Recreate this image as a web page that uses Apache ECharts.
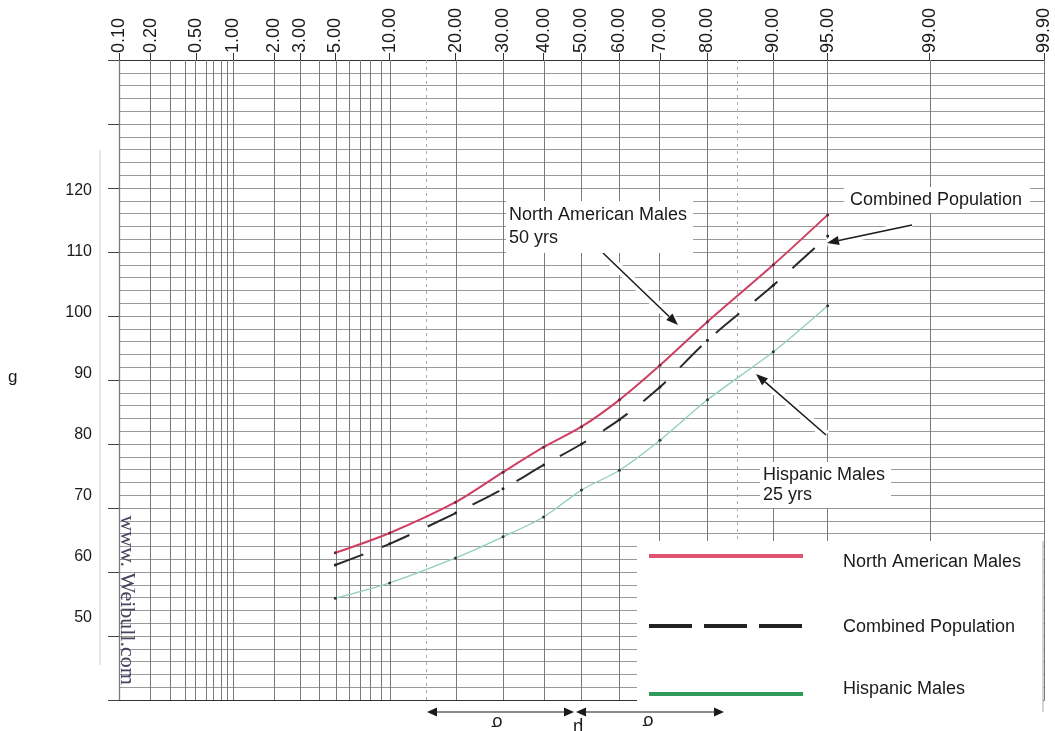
<!DOCTYPE html>
<html>
<head>
<meta charset="utf-8">
<script src="https://cdn.jsdelivr.net/npm/echarts@6/dist/echarts.min.js"></script>
<style>
html,body{margin:0;padding:0;background:#fff;}
#chart{width:1055px;height:731px;}
</style>
</head>
<body>
<div id="chart"></div>
<script>
// ---------- data ----------
const xTickProbs = [0.1, 0.2, 0.5, 1, 2, 3, 5, 10, 20, 30, 40, 50, 60, 70, 80, 90, 95, 99, 99.9];
const xTickLabels = ['0.10','0.20','0.50','1.00','2.00','3.00','5.00','10.00','20.00','30.00','40.00','50.00','60.00','70.00','80.00','90.00','95.00','99.00','99.90'];
const gridProbs = [0.1,0.2,0.3,0.4,0.5,0.6,0.7,0.8,0.9,1,2,3,4,5,6,7,8,9,10,20,30,40,50,60,70,80,90,95,99,99.9];
const dashedGridProbs = [15, 85];
const yTickLabels = [50, 60, 70, 80, 90, 100, 110, 120];

const probs = [5, 10, 20, 30, 40, 50, 60, 70, 80, 90, 95];
const northAmerican = [63.0, 66.1, 70.9, 75.6, 79.5, 82.7, 86.9, 92.3, 99.1, 108.0, 115.8];
const combined      = [61.1, 64.4, 69.2, 73.0, 76.7, 80.0, 83.8, 88.9, 96.2, 104.8, 112.5];
const hispanic      = [55.9, 58.3, 62.2, 65.5, 68.6, 72.8, 75.9, 80.6, 86.9, 94.4, 101.6];

const seriesNames = ['North American Males', 'Combined Population', 'Hispanic Males'];

// ---------- normal probability scale (inverse normal CDF) ----------
function normInv(p) {
  const a=[-3.969683028665376e+01,2.209460984245205e+02,-2.759285104469687e+02,1.383577518672690e+02,-3.066479806614716e+01,2.506628277459239e+00];
  const b=[-5.447609879822406e+01,1.615858368580409e+02,-1.556989798598866e+02,6.680131188771972e+01,-1.328068155288572e+01];
  const c=[-7.784894002430293e-03,-3.223964580411365e-01,-2.400758277161838e+00,-2.549732539343734e+00,4.374664141464968e+00,2.938163982698783e+00];
  const d=[7.784695709041462e-03,3.224671290700398e-01,2.445134137142996e+00,3.754408661907416e+00];
  const plow=0.02425, phigh=1-plow; let q,r;
  if(p<plow){q=Math.sqrt(-2*Math.log(p));return (((((c[0]*q+c[1])*q+c[2])*q+c[3])*q+c[4])*q+c[5])/((((d[0]*q+d[1])*q+d[2])*q+d[3])*q+1);}
  if(p<=phigh){q=p-0.5;r=q*q;return (((((a[0]*r+a[1])*r+a[2])*r+a[3])*r+a[4])*r+a[5])*q/(((((b[0]*r+b[1])*r+b[2])*r+b[3])*r+b[4])*r+1);}
  q=Math.sqrt(-2*Math.log(1-p));return -(((((c[0]*q+c[1])*q+c[2])*q+c[3])*q+c[4])*q+c[5])/((((d[0]*q+d[1])*q+d[2])*q+d[3])*q+1);
}
const zOf = pct => normInv(pct / 100);
const xMin = zOf(0.1), xMax = zOf(99.9);
const xTickZ = xTickProbs.map(zOf);

function toPoints(vals){ return probs.map((p,i)=>[zOf(p), vals[i]]); }

// ---------- helpers for graphics ----------
function arrow(x1,y1,x2,y2,opts){
  opts = opts || {};
  const ang = Math.atan2(y2-y1, x2-x1);
  const L = opts.head || 12, W = opts.w || 4.5;
  const bx = x2 - L*Math.cos(ang), by = y2 - L*Math.sin(ang);
  const px = -Math.sin(ang)*W, py = Math.cos(ang)*W;
  const els = [];
  if (opts.halo) els.push({type:'line', z:100, shape:{x1:x1,y1:y1,x2:x2,y2:y2}, style:{stroke:'#fff', lineWidth:opts.halo}});
  els.push({type:'line', z:101, shape:{x1:x1,y1:y1,x2:bx,y2:by}, style:{stroke:'#1a1a1a', lineWidth:opts.lw||1.5}});
  els.push({type:'polygon', z:101, shape:{points:[[x2,y2],[bx+px,by+py],[bx-px,by-py]]}, style:{fill:'#1a1a1a'}});
  return els;
}
const font = '"Liberation Sans", Arial, sans-serif';
function label(text, x, y, extra){
  return {type:'text', z:102, style:Object.assign({text:text, x:x, y:y, font:'18px '+font, fill:'#1a1a1a', textVerticalAlign:'middle'}, extra||{})};
}

const graphics = [];
// faint scan edge
graphics.push({type:'line', z:1, shape:{x1:100,y1:150,x2:100,y2:665}, style:{stroke:'#cfcfd8', lineWidth:1}});
// annotation boxes
graphics.push(label('North American Males\n50 yrs', 506, 227, {backgroundColor:'#fff', padding:[3,6,3,3], lineHeight:23}));
graphics.push(...arrow(603,253,678,325,{halo:9}));
graphics.push(label('Combined Population', 844, 200, {backgroundColor:'#fff', padding:[4,8,4,6]}));
graphics.push(...arrow(912,225,827,243,{halo:8}));
graphics.push(label('Hispanic Males\n25 yrs', 760, 485, {backgroundColor:'#fff', padding:[3,6,3,3], lineHeight:20}));
graphics.push(...arrow(826,435,756,374,{halo:9}));
// legend panel
graphics.push({type:'rect', z:100, shape:{x:637,y:541,width:406,height:175}, style:{fill:'#fff'}});
graphics.push({type:'line', z:101, shape:{x1:1043,y1:541,x2:1043,y2:712}, style:{stroke:'#aaa', lineWidth:1}});
graphics.push({type:'line', z:101, shape:{x1:649,y1:556,x2:803,y2:556}, style:{stroke:'#e2536f', lineWidth:4}});
graphics.push({type:'line', z:101, shape:{x1:649,y1:626,x2:803,y2:626}, style:{stroke:'#222', lineWidth:4, lineDash:[43,12]}});
graphics.push({type:'line', z:101, shape:{x1:649,y1:694,x2:803,y2:694}, style:{stroke:'#2f9a5a', lineWidth:4}});
graphics.push(label(seriesNames[0], 843, 562));
graphics.push(label(seriesNames[1], 843, 627));
graphics.push(label(seriesNames[2], 843, 689));
// watermark
graphics.push({type:'text', z:102, x:127, y:600, rotation:-Math.PI/2, style:{text:'www. Weibull.com', font:'22px "Liberation Serif", "DejaVu Serif", serif', fill:'#4a4560', textAlign:'center', textVerticalAlign:'middle'}});
// stray axis title fragment
graphics.push(label('g', 8, 377, {font:'17px '+font}));
// sigma / mu arrows (upside-down labels)
function dblArrow(x1,x2,y){
  const out=[];
  out.push({type:'line', z:101, shape:{x1:x1+8,y1:y,x2:x2-8,y2:y}, style:{stroke:'#1a1a1a', lineWidth:1.2}});
  out.push({type:'polygon', z:101, shape:{points:[[x1,y],[x1+10,y-4.5],[x1+10,y+4.5]]}, style:{fill:'#1a1a1a'}});
  out.push({type:'polygon', z:101, shape:{points:[[x2,y],[x2-10,y-4.5],[x2-10,y+4.5]]}, style:{fill:'#1a1a1a'}});
  return out;
}
graphics.push(...dblArrow(427,574,712));
graphics.push(...dblArrow(576,724,712));
graphics.push({type:'text', z:102, x:497, y:722, rotation:Math.PI, style:{text:'σ', font:'18px '+font, fill:'#1a1a1a', textAlign:'center', textVerticalAlign:'middle'}});
graphics.push({type:'text', z:102, x:648, y:721, rotation:Math.PI, style:{text:'σ', font:'18px '+font, fill:'#1a1a1a', textAlign:'center', textVerticalAlign:'middle'}});
graphics.push({type:'text', z:102, x:578, y:727, rotation:Math.PI, style:{text:'μ', font:'18px '+font, fill:'#1a1a1a', textAlign:'center', textVerticalAlign:'middle'}});

const gridMarkLines = gridProbs.map(p => ({xAxis: zOf(p)}))
  .concat(dashedGridProbs.map(p => ({xAxis: zOf(p), lineStyle:{type:[3,4], color:'#aaa'}})));

const chart = echarts.init(document.getElementById('chart'), null, {renderer:'canvas'});
chart.setOption({
  animation: false,
  backgroundColor: '#fff',
  grid: {left: 119, right: 11, top: 60, bottom: 31},
  xAxis: [{
    type: 'value', position: 'top', min: xMin, max: xMax,
    axisLine: {show: true, onZero: false, lineStyle: {color: '#333', width: 1.2}},
    axisTick: {show: true, length: 7, customValues: xTickZ, lineStyle: {color: '#333'}},
    axisLabel: {
      show: true, rotate: -90, margin: 7, customValues: xTickZ,
      fontFamily: font, fontSize: 18, color: '#1a1a1a',
      formatter: function(v){
        let bi = 0, bd = Infinity;
        xTickZ.forEach((z,i)=>{ const d = Math.abs(z-v); if(d<bd){bd=d;bi=i;} });
        return xTickLabels[bi];
      }
    },
    splitLine: {show: false}
  }, {
    type: 'value', position: 'bottom', min: xMin, max: xMax,
    axisLine: {show: true, onZero: false, lineStyle: {color: '#333', width: 1.2}},
    axisTick: {show: false}, axisLabel: {show: false}, splitLine: {show: false}
  }],
  yAxis: [{
    type: 'value', position: 'left', min: 40, max: 140, interval: 2,
    axisLine: {show: true, onZero: false, lineStyle: {color: '#333', width: 1.2}},
    axisTick: {show: false}, axisLabel: {show: false},
    splitLine: {show: true, lineStyle: {color: '#9a9a9a', width: 1}}
  }, {
    type: 'value', position: 'left', min: 40, max: 140, interval: 10,
    axisLine: {show: false, onZero: false},
    axisTick: {show: true, length: 11, lineStyle: {color: '#444'}},
    axisLabel: {show: false}, splitLine: {show: false}
  }, {
    type: 'value', position: 'left', min: 36.56, max: 141.48,
    axisLine: {show: false, onZero: false}, axisTick: {show: false}, splitLine: {show: false},
    axisLabel: {show: true, customValues: yTickLabels, margin: 27, fontFamily: font, fontSize: 16, color: '#1a1a1a'}
  }],
  series: [{
    type: 'line', data: [], z: 1, silent: true,
    markLine: {silent: true, symbol: ['none','none'], label: {show: false},
      lineStyle: {type: 'solid', color: '#7a7a7a', width: 1}, data: gridMarkLines}
  }, {
    name: seriesNames[0], type: 'line', z: 5, data: toPoints(northAmerican), smooth: 0.3,
    symbol: 'circle', symbolSize: 3, itemStyle: {color: '#5a2a3a'},
    lineStyle: {color: '#cf3f62', width: 2}
  }, {
    name: seriesNames[1], type: 'line', z: 5, data: toPoints(combined), smooth: 0.3,
    symbol: 'circle', symbolSize: 3, itemStyle: {color: '#222'},
    lineStyle: {color: '#2a2a2a', width: 2, type: [30, 20]}
  }, {
    name: seriesNames[2], type: 'line', z: 5, data: toPoints(hispanic), smooth: 0.3,
    symbol: 'circle', symbolSize: 3, itemStyle: {color: '#333'},
    lineStyle: {color: '#8fcfbd', width: 1.3}
  }],
  graphic: graphics
});
</script>
</body>
</html>
